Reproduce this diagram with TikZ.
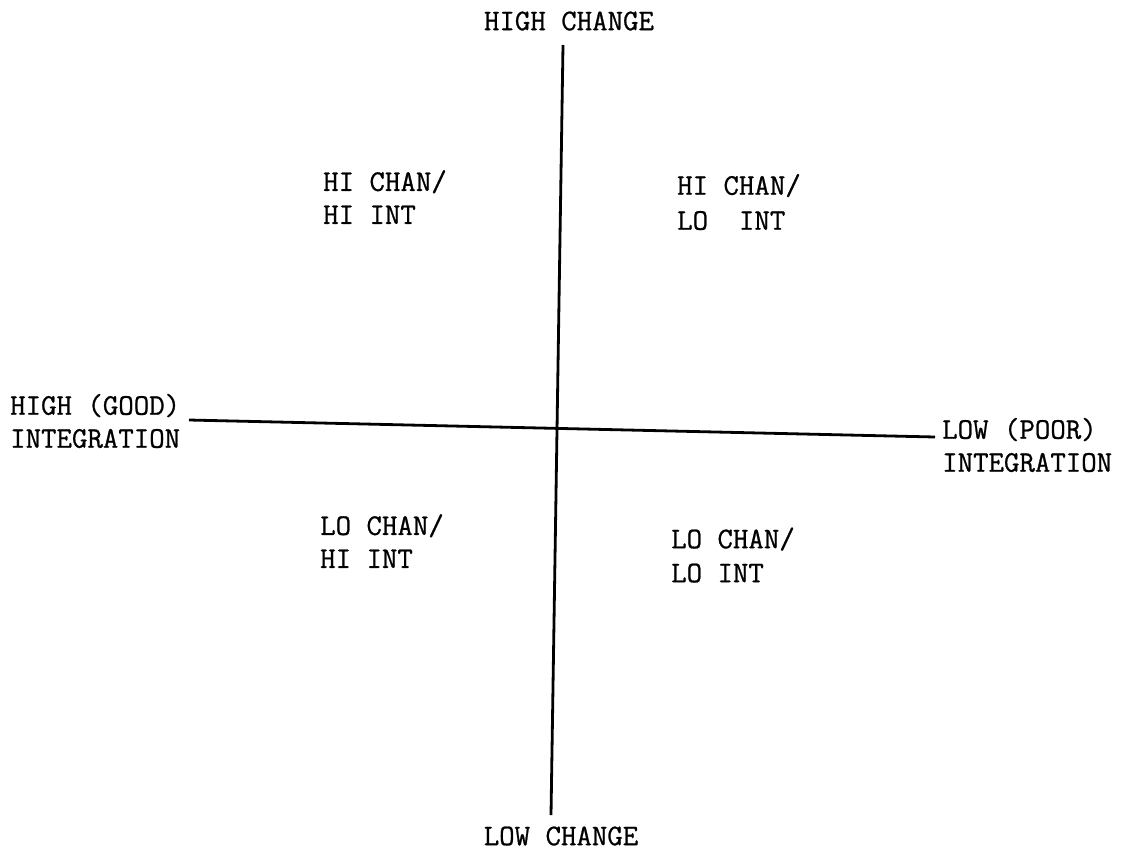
\documentclass[tikz,border=0pt]{standalone}
\usepackage{fontspec}
\setmonofont{Latin Modern Mono}[FakeBold=0.8]
\usepackage{tikz}

\begin{document}
\begin{tikzpicture}[x=1pt,y=-1pt,
    every node/.style={font=\ttfamily\fontsize{30}{33}\selectfont,inner sep=0pt},
    quad/.style={anchor=west,align=left},
    axis/.style={line width=2.8pt}]
                \useasboundingbox (0,0) rectangle (1127,852);

                \coordinate (top) at (563,45);
                \coordinate (bottom) at (551,815);
                \coordinate (left) at (189,420);
                \coordinate (right) at (935,437);
                \draw[axis] (top) -- (bottom);
                \draw[axis] (left) -- (right);

                \node (highchange) at (569,21) {HIGH CHANGE};
                \node (lowchange) at (561,836) {LOW CHANGE};

                \node[quad] (highint) at (10,421) {HIGH (GOOD)\\INTEGRATION};
                \node[quad] (lowint) at (942,445) {LOW (POOR)\\INTEGRATION};

                \node[quad] (hihi) at (323,197) {HI CHAN/\\HI INT};
                \node[quad,font=\ttfamily\fontsize{30}{35}\selectfont] (hilo) at (677,202) {HI CHAN/\\LO\ \ INT};
                \node[quad] (lohi) at (320,541) {LO CHAN/\\HI INT};
                \node[quad,font=\ttfamily\fontsize{30}{34}\selectfont] (lolo) at (671,555) {LO CHAN/\\LO INT};
            \end{tikzpicture}
\end{document}
